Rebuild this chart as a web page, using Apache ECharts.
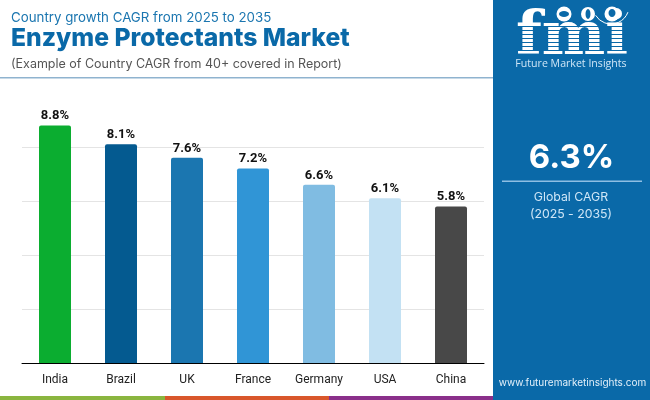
<!DOCTYPE html>
<html>
<head>
<meta charset="utf-8">
<title>Enzyme Protectants Market</title>
<style>
html, body { margin: 0; padding: 0; background: #fff; }
#main { width: 650px; height: 400px; }
</style>
<script src="https://cdn.jsdelivr.net/npm/echarts@6/dist/echarts.min.js"></script>
</head>
<body>
<div id="main"></div>
<script>
var countries = ['India', 'Brazil', 'UK', 'France', 'Germany', 'USA', 'China'];
var cagr = [8.8, 8.1, 7.6, 7.2, 6.6, 6.1, 5.8];
var barColors = ['#0bad30', '#045a90', '#1b76b0', '#3095d6', '#80bce2', '#c3e1f3', '#484848'];
var globalCagr = '6.3%';

var panelBlue = '#0a69a8';
var titleBlue = '#0a69a8';
var headFont = 'Inter, "Open Sans", sans-serif';

var myChart = echarts.init(document.getElementById('main'), null, { renderer: 'canvas' });

var graphics = [
    // header
    { type: 'text', x: 11, y: 17.5, style: { text: 'Country growth CAGR from 2025 to 2035', font: '400 13.3px ' + headFont, fill: '#1b76b0', verticalAlign: 'middle' } },
    { type: 'text', x: 11, y: 38.5, style: { text: 'Enzyme Protectants Market', font: '800 24.7px ' + headFont, fill: titleBlue, verticalAlign: 'middle' } },
    { type: 'text', x: 11, y: 64, style: { text: '(Example of Country CAGR from 40+ covered in Report)', font: '400 12.5px ' + headFont, fill: '#555555', verticalAlign: 'middle' } },
    { type: 'rect', shape: { x: 0, y: 77, width: 493, height: 1.5 }, style: { fill: '#8fb3cf' } },

    // bottom strip
    { type: 'rect', shape: { x: 0, y: 396, width: 165, height: 4 }, style: { fill: '#8ab53f' } },
    { type: 'rect', shape: { x: 165, y: 396, width: 164, height: 4 }, style: { fill: '#d9572b' } },
    { type: 'rect', shape: { x: 329, y: 396, width: 164, height: 4 }, style: { fill: '#8a2f8a' } },

    // right panel
    { type: 'rect', shape: { x: 493, y: 0, width: 157, height: 400 }, style: { fill: panelBlue } },
    { type: 'text', x: 571.5, y: 158.5, style: { text: globalCagr, font: '700 33px ' + headFont, fill: '#fff', align: 'center', verticalAlign: 'middle' } },
    { type: 'rect', shape: { x: 502, y: 180.5, width: 140, height: 1.5 }, style: { fill: '#8fbfe3' } },
    { type: 'text', x: 571, y: 197, style: { text: 'Global CAGR', font: '400 12.3px ' + headFont, fill: '#cfe6f7', align: 'center', verticalAlign: 'middle' } },
    { type: 'text', x: 571, y: 214, style: { text: '(2025 - 2035)', font: '400 12.3px ' + headFont, fill: '#cfe6f7', align: 'center', verticalAlign: 'middle' } },
    { type: 'text', x: 572.5, y: 383, style: { text: 'www.futuremarketinsights.com', font: '400 10px ' + headFont, fill: '#e3f0fa', align: 'center', verticalAlign: 'middle' } },

    // logo
    { type: 'text', x: 516, y: 68, style: { text: 'fmi', font: '700 60px "DejaVu Serif"', fill: '#fff', align: 'left', verticalAlign: 'bottom' } }
];

// stripes across the logo letters
for (var y = 26; y < 56; y += 4) {
    graphics.push({ type: 'rect', shape: { x: 514, y: y, width: 114, height: 1 }, style: { fill: panelBlue } });
}

// the three globes and the swoosh above the logo
graphics.push(
    { type: 'circle', shape: { cx: 564, cy: 14, r: 7.5 }, style: { fill: '#fff' } },
    { type: 'circle', shape: { cx: 588, cy: 14, r: 7 }, style: { fill: '#fff' } },
    { type: 'circle', shape: { cx: 612, cy: 14, r: 7.5 }, style: { fill: '#fff' } },
    { type: 'ellipse', shape: { cx: 564, cy: 14, rx: 5, ry: 3 }, style: { fill: panelBlue } },
    { type: 'ellipse', shape: { cx: 588, cy: 14, rx: 2.5, ry: 5 }, style: { fill: panelBlue } },
    { type: 'ellipse', shape: { cx: 612, cy: 13, rx: 3.5, ry: 4 }, style: { fill: panelBlue } },
    { type: 'arc', shape: { cx: 611, cy: 6, r: 18, startAngle: 0.35, endAngle: 2.6 }, style: { stroke: '#fff', lineWidth: 1, fill: null } },
    { type: 'text', x: 571, y: 64, style: { text: 'Future Market Insights', font: '400 10.6px "Open Sans"', fill: '#cfe6f7', align: 'center', verticalAlign: 'middle' } }
);

var option = {
    animation: false,
    backgroundColor: '#fff',
    grid: { left: 22, right: 166, top: 93, bottom: 37 },
    xAxis: {
        type: 'category',
        data: countries,
        axisTick: { show: false },
        axisLine: { lineStyle: { color: '#000', width: 1 } },
        axisLabel: { color: '#222', fontFamily: 'Roboto', fontSize: 12, margin: 11 }
    },
    yAxis: {
        type: 'value',
        min: 0,
        max: 10,
        interval: 2,
        axisLabel: { show: false },
        axisLine: { show: false },
        axisTick: { show: false },
        splitLine: { showMaxLine: false, lineStyle: { color: '#e4e4e4', width: 1 } }
    },
    series: [{
        type: 'bar',
        barWidth: 32,
        data: cagr.map(function(v, i) {
            return { value: v, itemStyle: { color: barColors[i], borderRadius: [2, 2, 0, 0] } };
        }),
        label: {
            show: true,
            position: 'top',
            distance: 3,
            color: '#111',
            fontFamily: 'Roboto',
            fontWeight: 700,
            fontSize: 13,
            formatter: function(p) { return p.value.toFixed(1) + '%'; }
        }
    }],
    graphic: { elements: graphics }
};

myChart.setOption(option);
</script>
</body>
</html>
